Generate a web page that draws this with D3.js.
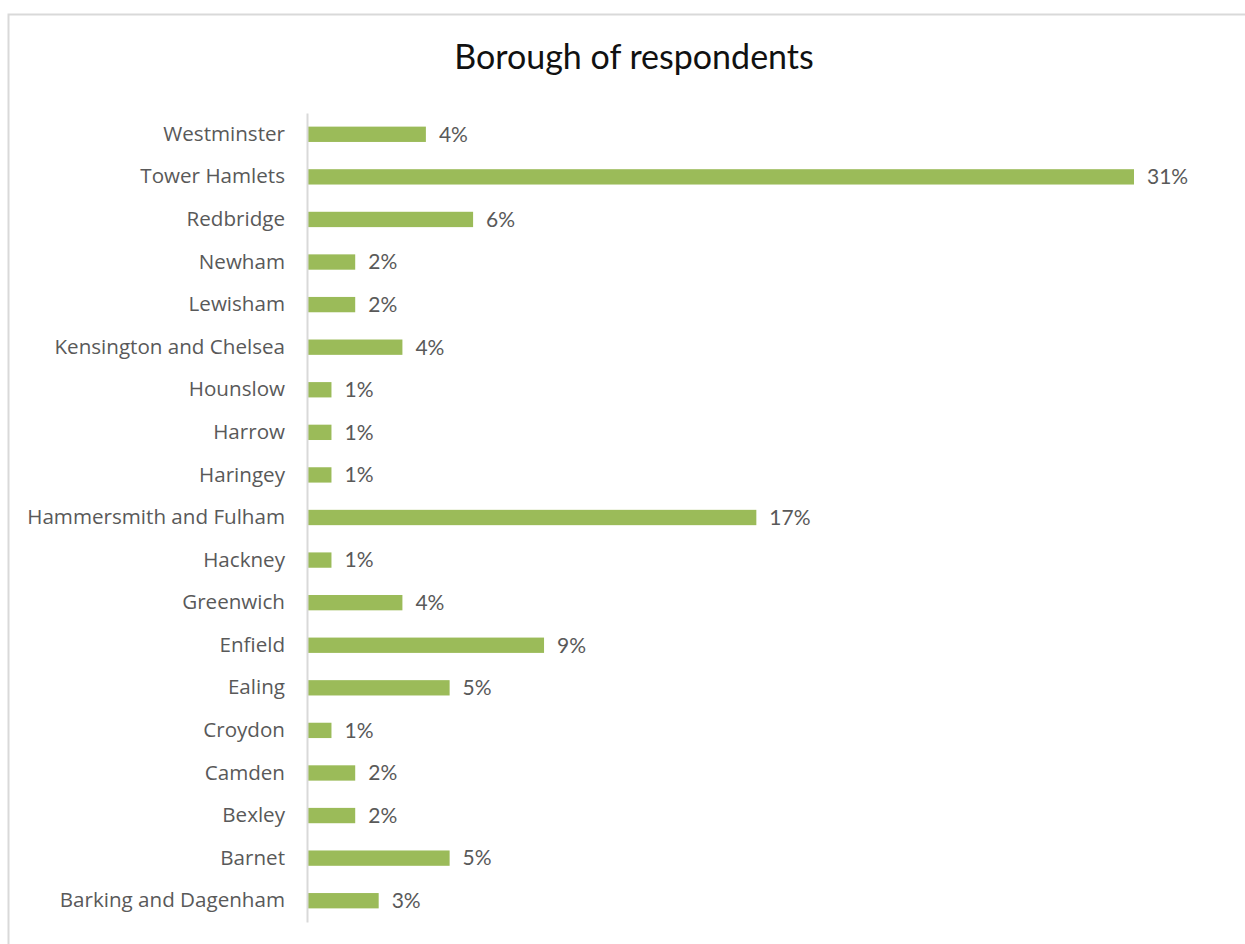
<!DOCTYPE html>
<html>
<head>
<meta charset="utf-8">
<script src="https://cdn.jsdelivr.net/npm/d3@7"></script>
<style>
  body { margin: 0; background: #fff; }
  svg { font-family: Lato, "Open Sans", sans-serif; }
  .cat-label { fill: #595959; font-size: 20.6px; font-family: "Open Sans", Lato, sans-serif; }
  .val-label { fill: #595959; font-size: 21px; }
  .title { fill: #111; font-size: 34px; }
</style>
</head>
<body>
<div id="chart"></div>
<script>
// Borough of respondents - share of respondents per borough
const boroughs = [
    "Westminster", "Tower Hamlets", "Redbridge", "Newham", "Lewisham",
    "Kensington and Chelsea", "Hounslow", "Harrow", "Haringey",
    "Hammersmith and Fulham", "Hackney", "Greenwich", "Enfield", "Ealing",
    "Croydon", "Camden", "Bexley", "Barnet", "Barking and Dagenham"
];
const shares = [
    0.0442, 0.3097, 0.0619, 0.0177, 0.0177,
    0.0354, 0.0088, 0.0088, 0.0088,
    0.1681, 0.0088, 0.0354, 0.0885, 0.0531,
    0.0088, 0.0177, 0.0177, 0.0531, 0.0265
];
const chartTitle = "Borough of respondents";

const width = 1245, height = 944;
const margin = {top: 113, left: 307, right: 112, bottom: 22};
const innerW = width - margin.left - margin.right;
const innerH = height - margin.top - margin.bottom;

const data = boroughs.map((b, i) => ({borough: b, share: shares[i]}));

const svg = d3.select("#chart").append("svg")
    .attr("width", width)
    .attr("height", height);

// chart frame
svg.append("rect")
    .attr("x", 8.5).attr("y", 14.5)
    .attr("width", 1250).attr("height", 960)
    .attr("fill", "none")
    .attr("stroke", "#d9d9d9")
    .attr("stroke-width", 2);

svg.append("text")
    .attr("class", "title")
    .attr("x", 634)
    .attr("y", 69)
    .attr("text-anchor", "middle")
    .text(chartTitle);

const g = svg.append("g")
    .attr("transform", `translate(${margin.left},${margin.top})`);

const y = d3.scaleBand()
    .domain(boroughs)
    .range([0, innerH])
    .paddingInner(0.64)
    .paddingOuter(0.32);

const x = d3.scaleLinear()
    .domain([0, d3.max(shares)])
    .range([0, 826]);

g.selectAll(".bar")
    .data(data)
    .enter().append("rect")
    .attr("class", "bar")
    .attr("x", 1)
    .attr("y", d => y(d.borough))
    .attr("width", d => x(d.share))
    .attr("height", y.bandwidth())
    .attr("fill", "#9bbb59");

const yAxis = g.append("g")
    .call(d3.axisLeft(y).tickSize(0).tickPadding(22));
yAxis.attr("font-family", null).attr("font-size", null);
yAxis.select(".domain").attr("stroke", "#d9d9d9").attr("stroke-width", 2);
yAxis.selectAll("text")
    .attr("class", "cat-label")
    .attr("fill", null);

g.selectAll(".val-label")
    .data(data)
    .enter().append("text")
    .attr("class", "val-label")
    .attr("x", d => x(d.share) + 14)
    .attr("y", d => y(d.borough) + y.bandwidth() / 2)
    .attr("dy", "0.35em")
    .text(d => d3.format(".0%")(d.share));
</script>
</body>
</html>
